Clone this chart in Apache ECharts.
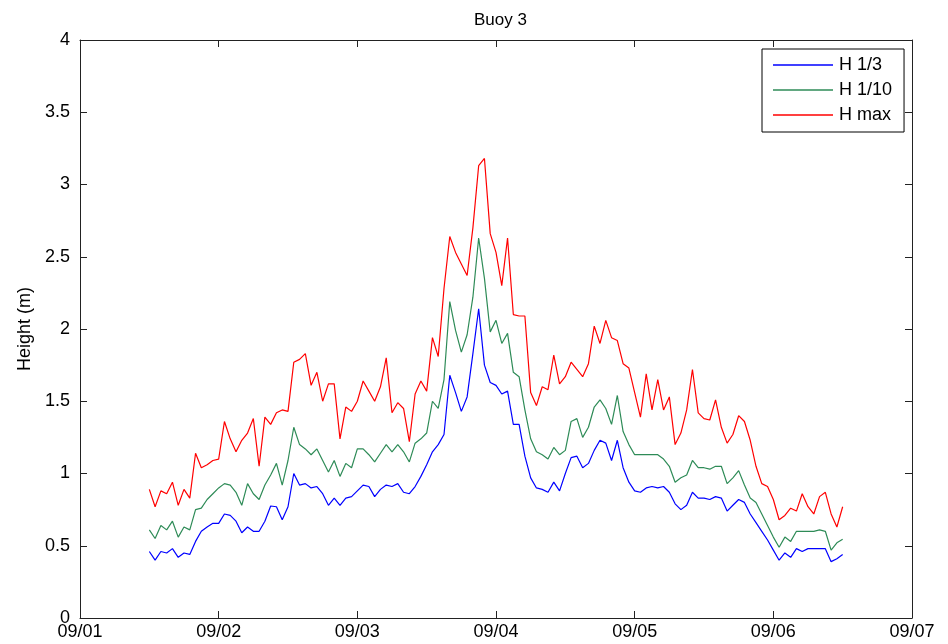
<!DOCTYPE html>
<html>
<head>
<meta charset="utf-8">
<script src="https://cdn.jsdelivr.net/npm/echarts@6/dist/echarts.min.js"></script>
<style>html,body{margin:0;padding:0;background:#fff;}#chart{width:948px;height:644px;}</style>
</head>
<body>
<div id="chart"></div>
<script>
// Tick labels on the time axis (days since 09/01 00:00)
const xTickLabels = ['09/01', '09/02', '09/03', '09/04', '09/05', '09/06', '09/07'];
// Hourly samples starting 09/01 12:00
const firstSampleDay = 0.5;
const sampleStepDays = 1 / 24;
const seriesNames = ['H 1/3', 'H 1/10', 'H max'];

const h13 = [0.46,0.40,0.46,0.45,0.48,0.42,0.45,0.44,0.53,0.60,0.63,0.655,0.655,0.72,0.71,0.67,0.59,0.63,0.60,0.60,
  0.67,0.775,0.77,0.68,0.77,1.00,0.92,0.93,0.90,0.91,0.86,0.78,0.83,0.78,0.83,0.84,0.88,0.92,0.91,0.84,
  0.89,0.92,0.91,0.93,0.87,0.86,0.91,0.98,1.06,1.15,1.20,1.27,1.68,1.56,1.43,1.53,1.83,2.14,1.75,1.63,
  1.61,1.55,1.57,1.34,1.34,1.12,0.97,0.90,0.89,0.87,0.94,0.88,1.00,1.11,1.12,1.04,1.07,1.16,1.23,1.21,
  1.09,1.23,1.04,0.94,0.88,0.87,0.90,0.91,0.90,0.91,0.87,0.79,0.75,0.78,0.87,0.83,0.83,0.82,0.84,0.83,
  0.74,0.78,0.82,0.80,0.72,0.66,0.60,0.54,0.47,0.40,0.45,0.42,0.48,0.46,0.48,0.48,0.48,0.48,0.39,0.41,0.44];

const h110 = [0.61,0.55,0.64,0.61,0.67,0.56,0.63,0.61,0.75,0.76,0.82,0.86,0.90,0.93,0.92,0.87,0.78,0.93,0.86,0.82,
  0.92,0.99,1.07,0.92,1.09,1.32,1.20,1.17,1.13,1.17,1.09,1.01,1.09,0.98,1.07,1.04,1.17,1.17,1.13,1.08,
  1.14,1.20,1.15,1.20,1.15,1.08,1.21,1.24,1.28,1.50,1.45,1.65,2.19,1.99,1.84,1.96,2.22,2.63,2.35,1.98,
  2.06,1.90,1.97,1.70,1.67,1.44,1.24,1.15,1.13,1.10,1.18,1.13,1.16,1.36,1.38,1.25,1.32,1.46,1.51,1.45,
  1.34,1.54,1.29,1.20,1.13,1.13,1.13,1.13,1.13,1.10,1.05,0.94,0.97,0.99,1.09,1.04,1.04,1.03,1.05,1.05,
  0.93,0.97,1.02,0.92,0.83,0.80,0.72,0.64,0.56,0.49,0.56,0.53,0.60,0.60,0.60,0.60,0.61,0.60,0.47,0.52,0.545];

const hmax = [0.89,0.77,0.88,0.86,0.94,0.78,0.89,0.83,1.14,1.04,1.06,1.09,1.10,1.36,1.24,1.15,1.23,1.28,1.38,1.05,
  1.39,1.34,1.42,1.44,1.43,1.77,1.79,1.83,1.61,1.70,1.50,1.62,1.62,1.24,1.46,1.43,1.50,1.64,1.57,1.50,
  1.60,1.80,1.42,1.49,1.45,1.22,1.55,1.64,1.57,1.94,1.81,2.28,2.64,2.53,2.45,2.37,2.70,3.13,3.18,2.66,
  2.53,2.30,2.63,2.10,2.09,2.09,1.56,1.47,1.60,1.58,1.82,1.62,1.67,1.77,1.72,1.67,1.76,2.02,1.90,2.06,
  1.94,1.92,1.76,1.73,1.56,1.39,1.69,1.44,1.65,1.44,1.53,1.20,1.28,1.44,1.72,1.42,1.38,1.37,1.51,1.32,
  1.21,1.27,1.40,1.36,1.23,1.05,0.93,0.91,0.82,0.68,0.71,0.76,0.74,0.86,0.77,0.72,0.84,0.87,0.72,0.63,0.77];

function toPairs(arr) {
  return arr.map((v, i) => [firstSampleDay + i * sampleStepDays, v]);
}

const FONT = 'Liberation Sans, Arial, sans-serif';
const AXIS_COLOR = '#222';
const TXT = '#000';
const FS = 18;

const chart = echarts.init(document.getElementById('chart'), null, { renderer: 'canvas' });

const xBase = {
  type: 'value', min: 0, max: xTickLabels.length - 1, interval: 1,
  axisLine: { show: true, onZero: false, lineStyle: { color: AXIS_COLOR, width: 1 } },
  axisTick: { show: true, inside: true, length: 7, lineStyle: { color: AXIS_COLOR } },
  splitLine: { show: false }
};
const yBase = {
  type: 'value', min: 0, max: 4, interval: 0.5,
  axisLine: { show: true, onZero: false, lineStyle: { color: AXIS_COLOR, width: 1 } },
  axisTick: { show: true, inside: true, length: 7, lineStyle: { color: AXIS_COLOR } },
  splitLine: { show: false }
};

chart.setOption({
  animation: false,
  backgroundColor: '#fff',
  title: {
    text: 'Buoy 3', left: 469, top: 7,
    textStyle: { fontFamily: FONT, fontSize: 17, fontWeight: 'normal', color: TXT }
  },
  grid: { left: 80, right: 36, top: 40, bottom: 26 },
  legend: {
    orient: 'vertical', left: 762, top: 49,
    data: seriesNames,
    icon: 'rect',
    itemWidth: 60, itemHeight: 1.5, itemGap: 5,
    padding: [6, 12, 7, 11],
    borderColor: '#000', borderWidth: 1, backgroundColor: '#fff',
    textStyle: { fontFamily: FONT, fontSize: FS, lineHeight: 20, color: TXT, padding: [0, 0, 0, 1] }
  },
  xAxis: [
    Object.assign({}, xBase, {
      position: 'bottom',
      axisLabel: { show: true, margin: 5, fontFamily: FONT, fontSize: FS, color: TXT,
        formatter: v => xTickLabels[Math.round(v)] }
    }),
    Object.assign({}, xBase, { position: 'top', axisLabel: { show: false } })
  ],
  yAxis: [
    Object.assign({}, yBase, {
      position: 'left',
      name: 'Height (m)', nameLocation: 'middle', nameGap: 43,
      nameTextStyle: { fontFamily: FONT, fontSize: FS, color: TXT },
      axisLabel: { show: true, margin: 10, fontFamily: FONT, fontSize: FS, color: TXT,
        formatter: v => String(v) }
    }),
    Object.assign({}, yBase, { position: 'right', axisLabel: { show: false } })
  ],
  series: [
    { name: seriesNames[0], type: 'line', data: toPairs(h13), symbol: 'none', color: '#0000FF',
      lineStyle: { width: 1.2, color: '#0000FF' }, xAxisIndex: 0, yAxisIndex: 0 },
    { name: seriesNames[1], type: 'line', data: toPairs(h110), symbol: 'none', color: '#2E8B57',
      lineStyle: { width: 1.2, color: '#2E8B57' }, xAxisIndex: 0, yAxisIndex: 0 },
    { name: seriesNames[2], type: 'line', data: toPairs(hmax), symbol: 'none', color: '#FF0000',
      lineStyle: { width: 1.2, color: '#FF0000' }, xAxisIndex: 0, yAxisIndex: 0 }
  ]
});
</script>
</body>
</html>
